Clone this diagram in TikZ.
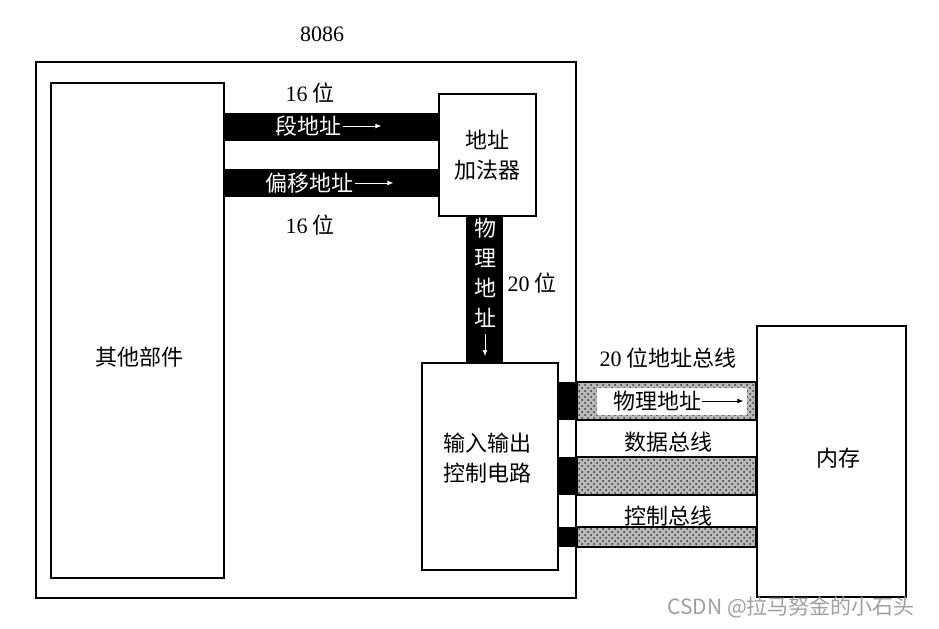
\documentclass[tikz,border=0pt]{standalone}
\usepackage{fontspec}
\setmainfont{Liberation Serif}
\newfontfamily\cjk{Noto Sans CJK SC}
\usetikzlibrary{patterns,arrows.meta}
\tikzstyle{unit} = [draw=black, fill=white, line width=0.7pt,
    rectangle, inner sep=0]
\tikzstyle{tag} = [font=\cjk\fontsize{11}{15}\selectfont, inner sep=0, align=center]
\tikzstyle{wtag} = [tag, text=white]
\tikzstyle{warrow} = [white, line width=0.5pt, -{Latex[length=3pt,width=2.5pt]}]
\tikzstyle{bus} = [draw=black, line width=0.6pt, preaction={fill=gray!55},
    pattern=crosshatch dots, pattern color=black!80]

\begin{document}
\begin{tikzpicture}[x=0.5pt, y=-0.5pt]
    \useasboundingbox (0,0) rectangle (939,628);
    % boxes
    \node [unit, line width=1pt, minimum width=270pt, minimum height=268pt] (cpu) at (306,330) {};
    \node [tag] (cpuname) at (322,34) {\rmfamily 8086};
    \node [unit, minimum width=86.5pt, minimum height=247.5pt] (other) at (137.5,330.5) {};
    \node [tag] (otherlbl) at (140,357) {其他部件};
    \node [unit, tag, minimum width=48.5pt, minimum height=61pt] (adder) at (487.5,155) {地址\\加法器};
    \node [unit, minimum width=68pt, minimum height=103.5pt] (ioc) at (490,466.5) {};
    \node [tag] (ioclbl) at (487,458) {输入输出\\控制电路};
    \node [unit, line width=1pt, minimum width=74.5pt, minimum height=135.5pt] (mem) at (831.5,461.5) {};
    \node [tag] (memlbl) at (838,458) {内存};

    % internal 16 bit paths
    \fill (other.east |- 0,113) rectangle (adder.west |- 0,141);
    \fill (other.east |- 0,169) rectangle (adder.west |- 0,197);
    \node [wtag] (seglbl) at (308,126) {段地址};
    \draw [warrow] (seglbl.east) ++(2,0) -- ++(38,0);
    \node [wtag] (offlbl) at (309,183) {偏移地址};
    \draw [warrow] (offlbl.east) ++(2,0) -- ++(38,0);
    \node [tag] (segbits) at (310,93) {{\rmfamily 16} 位};
    \node [tag] (offbits) at (310,225) {{\rmfamily 16} 位};

    % 20 bit physical address
    \fill (466,0 |- adder.south) rectangle (503,0 |- ioc.north);
    \node [wtag] (physlbl) at (485,273) {物\\理\\地\\址};
    \draw [warrow] (physlbl.south) ++(0,6) -- ++(0,22);
    \node [tag] (physbits) at (532,283) {{\rmfamily 20} 位};

    % system buses
    \fill (ioc.east |- 0,382) rectangle (cpu.east |- 0,420);
    \fill (ioc.east |- 0,457) rectangle (cpu.east |- 0,495);
    \fill (ioc.east |- 0,527) rectangle (cpu.east |- 0,547);
    \draw [bus] (cpu.east |- 0,382) rectangle (mem.west |- 0,420);
    \draw [bus] (cpu.east |- 0,457) rectangle (mem.west |- 0,495);
    \draw [bus] (cpu.east |- 0,527) rectangle (mem.west |- 0,547);
    \fill [white] (597,388) rectangle (747,415);
    \node [tag] (addrin) at (657,401) {物理地址};
    \draw [line width=0.5pt, -{Latex[length=3pt,width=2.5pt]}] (addrin.east) ++(1,0) -- ++(41,0);
    \node [tag] (addrbus) at (668,358) {{\rmfamily 20} 位地址总线};
    \node [tag] (databus) at (668,442) {数据总线};
    \node [tag] (ctrlbus) at (668,516) {控制总线};

    \node [anchor=west, inner sep=0, text=gray!75, font=\cjk\fontsize{10.5}{12}\selectfont] (mark) at (667,607) {CSDN @拉马努金的小石头};
\end{tikzpicture}
\end{document}
